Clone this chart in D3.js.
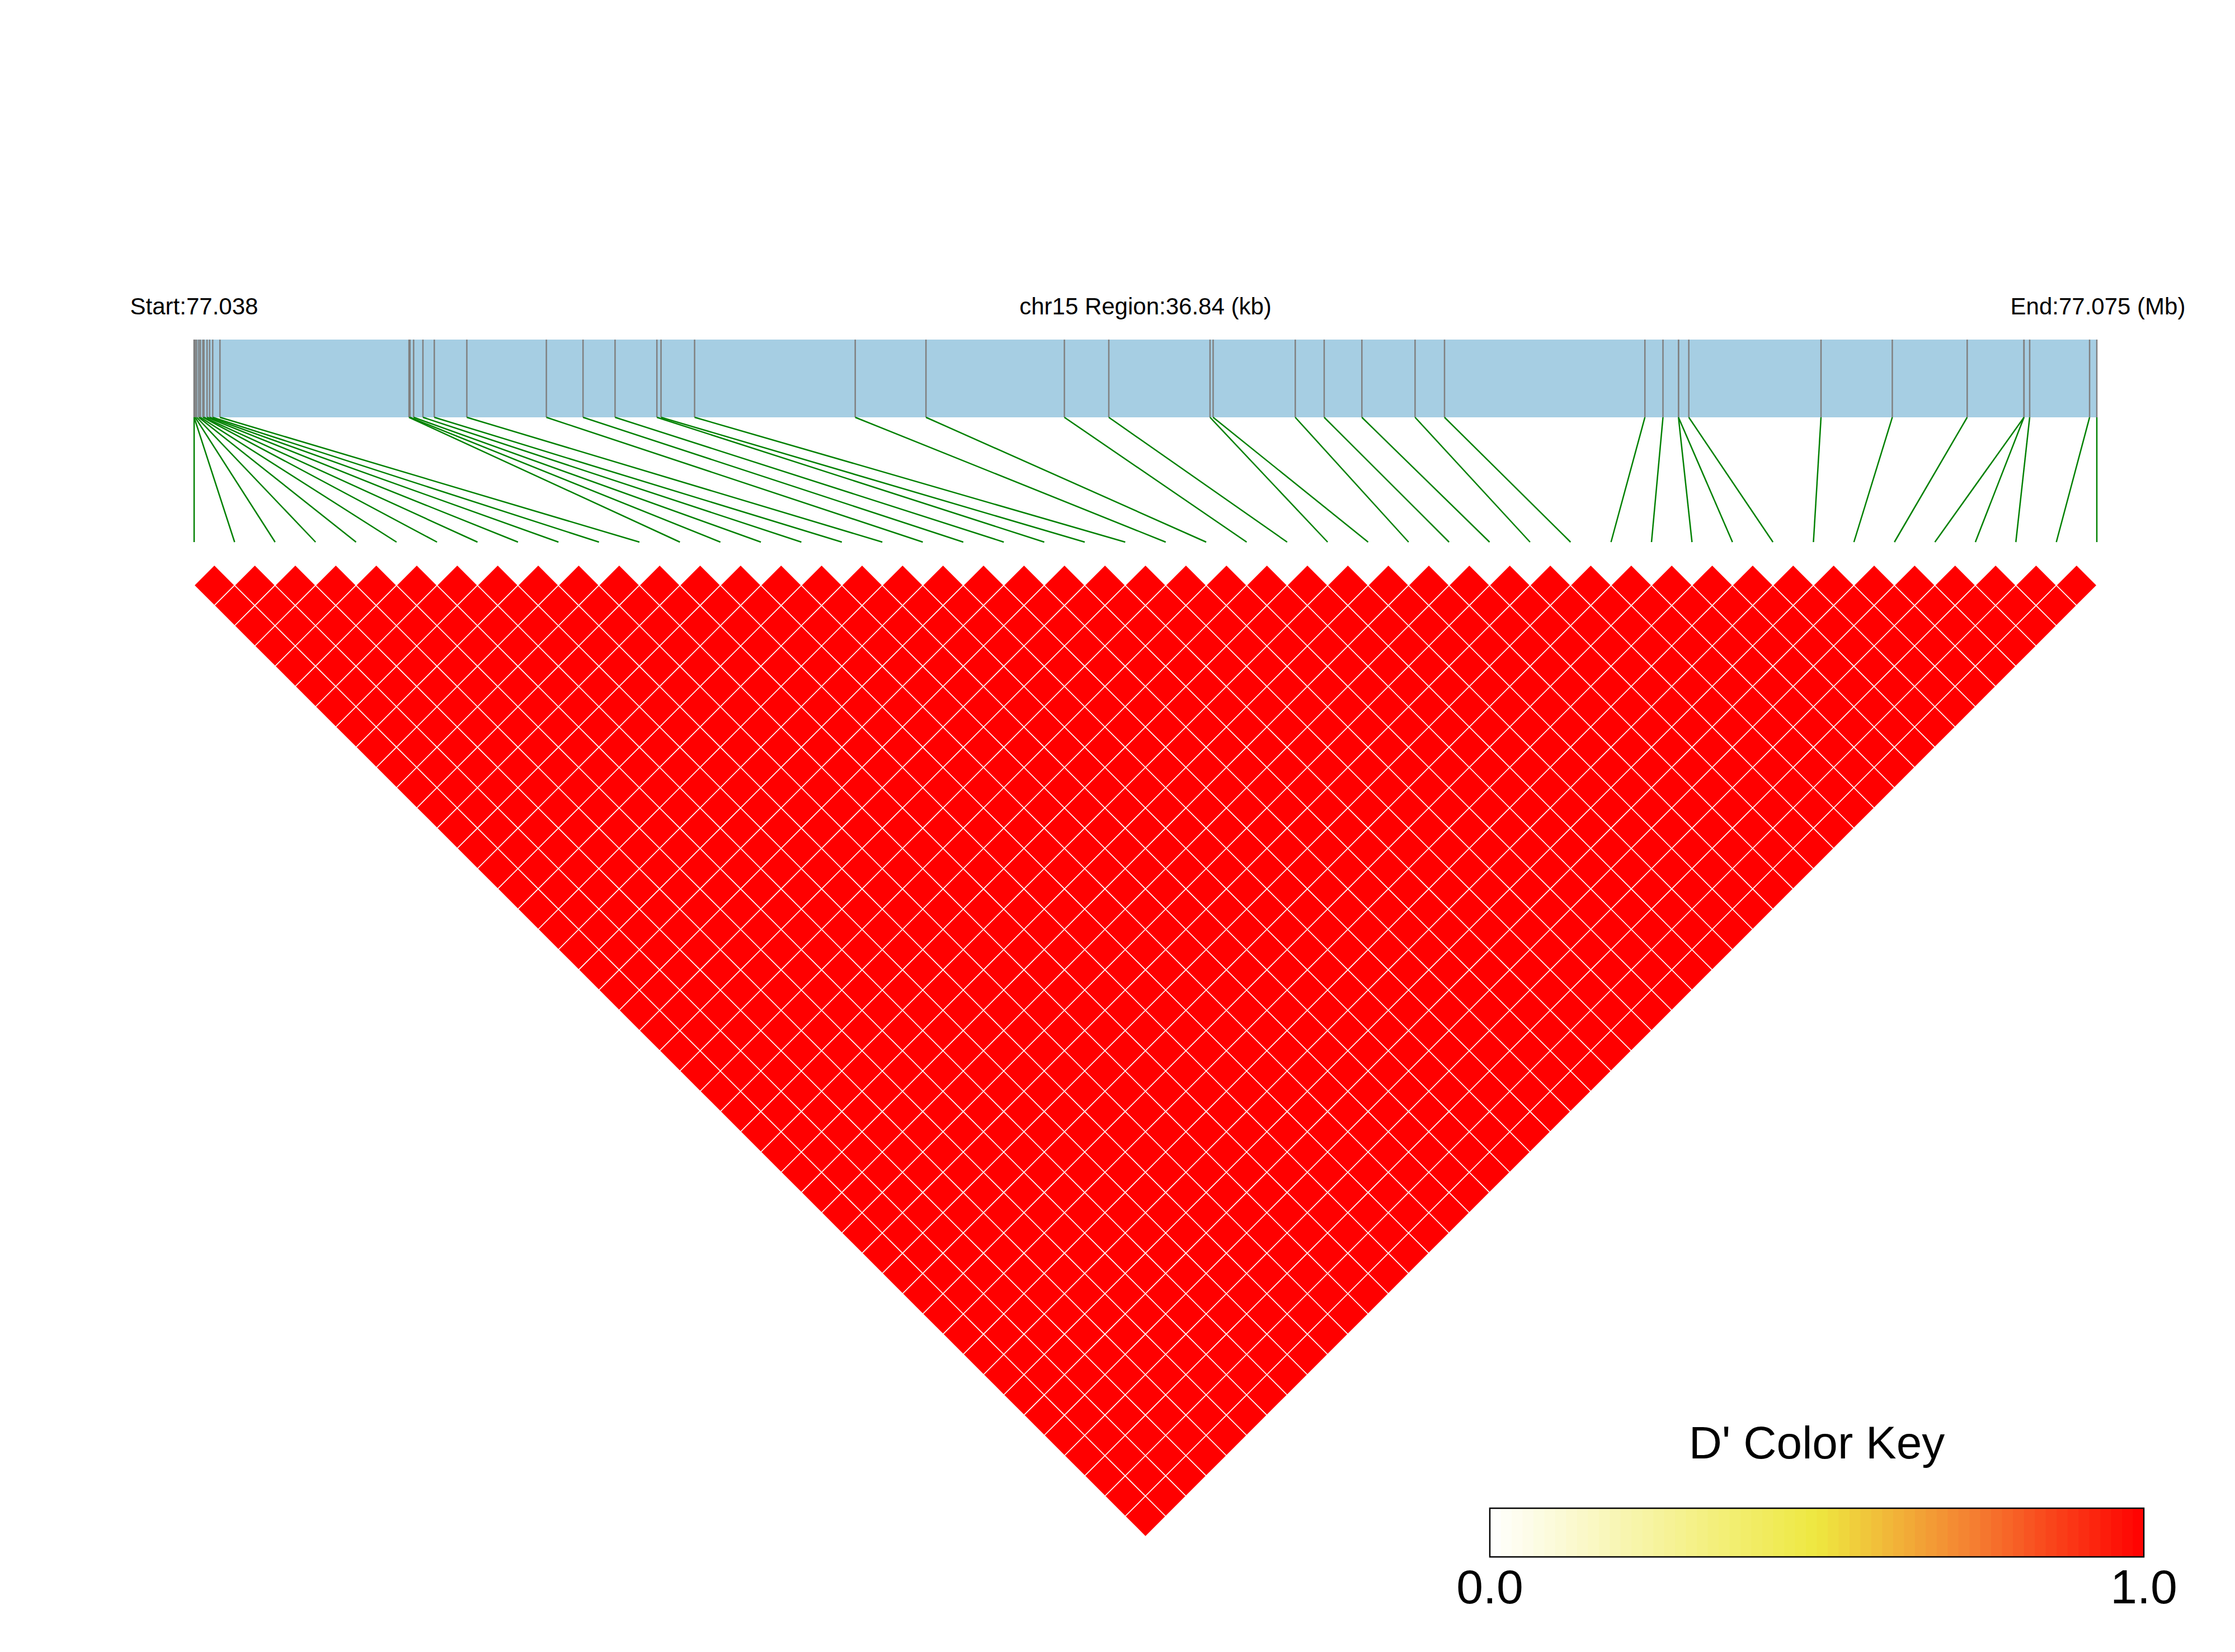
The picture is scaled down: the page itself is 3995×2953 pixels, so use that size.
<!DOCTYPE html>
<html>
<head>
<meta charset="utf-8">
<script src="https://cdn.jsdelivr.net/npm/d3@7/dist/d3.min.js"></script>
<style>
  body { margin: 0; background: #fff; }
  text { font-family: "Liberation Sans", Arial, sans-serif; }
</style>
</head>
<body>
<svg id="chart"></svg>
<script>
var width = 3995,
    height = 2953;

// SNP positions, kb from region start (77.038 Mb)
var snpKb = [0, 0, 0.02, 0.05, 0.09, 0.12, 0.17, 0.19, 0.25, 0.30, 0.36, 0.50,
  4.16, 4.18, 4.25, 4.43, 4.65, 5.28,
  6.82, 7.53, 8.15, 8.96, 9.04, 9.69,
  12.80, 14.17, 16.85, 17.71, 19.67, 19.73, 21.32, 21.88, 22.61, 23.64, 24.21,
  28.09, 28.44, 28.74, 28.74, 28.94, 31.50, 32.88, 34.33, 35.43, 35.43, 35.54, 36.70, 36.84];
var regionKb = 36.84;
var startLabel = "Start:77.038",
    regionLabel = "chr15 Region:36.84 (kb)",
    endLabel = "End:77.075 (Mb)";
// D' values: all pairs are 1.0 in this plot
var dPrimeAll = 1.0;
var keyTicks = [0.0, 1.0];

var x0 = 347, x1 = 3748;
var barTop = 607, barBottom = 746, lineEnd = 969, gridTop = 1010;

var svg = d3.select("#chart").attr("width", width).attr("height", height);

var xGen = d3.scaleLinear().domain([0, regionKb]).range([x0, x1]);
var n = snpKb.length;
var xIdx = d3.scaleLinear().domain([0, n - 1]).range([x0, x1]);
var step = xIdx(1) - xIdx(0);

var colorKey = d3.scaleLinear()
    .domain([0, 0.5, 0.75, 1])
    .range(["#ffffff", "#eee840", "#f57a30", "#ff0000"]);

// labels
svg.append("text").attr("x", x0).attr("y", 562).attr("text-anchor", "middle")
    .attr("font-size", 42).text(startLabel);
svg.append("text").attr("x", (x0 + x1) / 2).attr("y", 562).attr("text-anchor", "middle")
    .attr("font-size", 42).text(regionLabel);
svg.append("text").attr("x", x1 + 2).attr("y", 562).attr("text-anchor", "middle")
    .attr("font-size", 42).text(endLabel);

// gene bar
svg.append("rect").attr("x", x0).attr("y", barTop)
    .attr("width", x1 - x0).attr("height", barBottom - barTop)
    .attr("fill", "#a6cee3");

svg.append("g").selectAll("line").data(snpKb).join("line")
    .attr("x1", d => xGen(d)).attr("x2", d => xGen(d))
    .attr("y1", barTop).attr("y2", barBottom)
    .attr("stroke", "#808080").attr("stroke-width", 2.5);

svg.append("g").selectAll("line").data(snpKb).join("line")
    .attr("x1", d => xGen(d)).attr("y1", barBottom)
    .attr("x2", (d, i) => xIdx(i)).attr("y2", lineEnd)
    .attr("stroke", "#008000").attr("stroke-width", 2.5);

// LD triangle
var pairs = [];
for (var i = 0; i < n; i++) {
  for (var j = i + 1; j < n; j++) {
    pairs.push({i: i, j: j, d: dPrimeAll});
  }
}
var h = step / 2;
svg.append("g").selectAll("path").data(pairs).join("path")
    .attr("d", function(p) {
      var cx = xIdx((p.i + p.j) / 2),
          cy = gridTop + (p.j - p.i) * h;
      return "M" + cx + "," + (cy - h) + "L" + (cx + h) + "," + cy +
             "L" + cx + "," + (cy + h) + "L" + (cx - h) + "," + cy + "Z";
    })
    .attr("fill", p => colorKey(p.d))
    .attr("stroke", "#ffffff").attr("stroke-width", 1.5);

// colour key
var kx0 = 2663, kx1 = 3832, ky = 2696, kh = 87;
var kScale = d3.scaleLinear().domain([0, 1]).range([kx0, kx1]);
var steps = d3.range(0, 60).map(k => k / 60);
svg.append("g").selectAll("rect").data(steps).join("rect")
    .attr("x", d => kScale(d)).attr("y", ky)
    .attr("width", (kx1 - kx0) / 60 + 0.8).attr("height", kh)
    .attr("fill", d => colorKey(d + 1 / 120));
svg.append("rect").attr("x", kx0).attr("y", ky)
    .attr("width", kx1 - kx0).attr("height", kh)
    .attr("fill", "none").attr("stroke", "#000").attr("stroke-width", 2.5);
svg.append("text").attr("x", (kx0 + kx1) / 2).attr("y", 2607)
    .attr("text-anchor", "middle").attr("font-size", 82).text("D' Color Key");
svg.append("g").selectAll("text").data(keyTicks).join("text")
    .attr("x", d => kScale(d)).attr("y", 2866)
    .attr("text-anchor", "middle").attr("font-size", 86)
    .text(d => d3.format(".1f")(d));
</script>
</body>
</html>
